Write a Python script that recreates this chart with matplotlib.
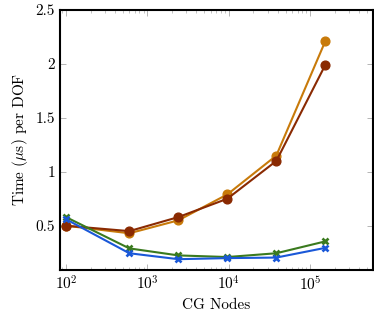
import numpy as np
import matplotlib
matplotlib.use("Agg")
import matplotlib.pyplot as plt
from matplotlib.ticker import LogLocator, FixedLocator

plt.rcParams['font.family'] = 'serif'
plt.rcParams['font.serif'] = ['cmr10', 'DejaVu Serif']
plt.rcParams['mathtext.fontset'] = 'cm'
plt.rcParams['axes.formatter.use_mathtext'] = True
plt.rcParams['font.size'] = 11

nodes = [100, 600, 2400, 9600, 38400, 153600]
orange = [0.50, 0.43, 0.55, 0.79, 1.15, 2.21]
brown = [0.50, 0.45, 0.58, 0.75, 1.10, 1.99]
green = [0.58, 0.29, 0.225, 0.21, 0.245, 0.355]
blue = [0.56, 0.245, 0.19, 0.20, 0.205, 0.295]

fig = plt.figure(figsize=(3.74, 3.18), dpi=100)
ax = fig.add_axes([0.160, 0.151, 0.837, 0.818])

ax.plot(nodes, orange, color='#c87a0a', lw=1.5, marker='o', ms=6.3)
ax.plot(nodes, brown, color='#8a2a02', lw=1.5, marker='o', ms=6.3)
ax.plot(nodes, green, color='#3a7a1e', lw=1.5, marker='x', ms=4.8, mew=1.9)
ax.plot(nodes, blue, color='#1a58d8', lw=1.5, marker='x', ms=4.8, mew=1.9)

ax.set_xscale('log')
ax.set_xlim(84, 590000)
ax.set_ylim(0.09, 2.5)
ax.set_yticks([0.5, 1, 1.5, 2, 2.5])
ax.set_yticklabels(['0.5', '1', '1.5', '2', '2.5'])
ax.xaxis.set_major_locator(FixedLocator([1e2, 1e3, 1e4, 1e5]))
ax.xaxis.set_minor_locator(LogLocator(base=10, subs=np.arange(2, 10), numticks=20))

for s in ax.spines.values():
    s.set_linewidth(1.5)
ax.tick_params(which='both', direction='in', top=True, right=True, color='#aaaaaa')
ax.tick_params(which='major', length=4, width=0.6, labelsize=11)
ax.tick_params(which='minor', length=2.5, width=0.5)

ax.set_xlabel('CG Nodes', fontsize=11)
ax.set_ylabel(r'Time ($\mu$s) per DOF', fontsize=11)

fig.savefig('out.png', dpi=100)
